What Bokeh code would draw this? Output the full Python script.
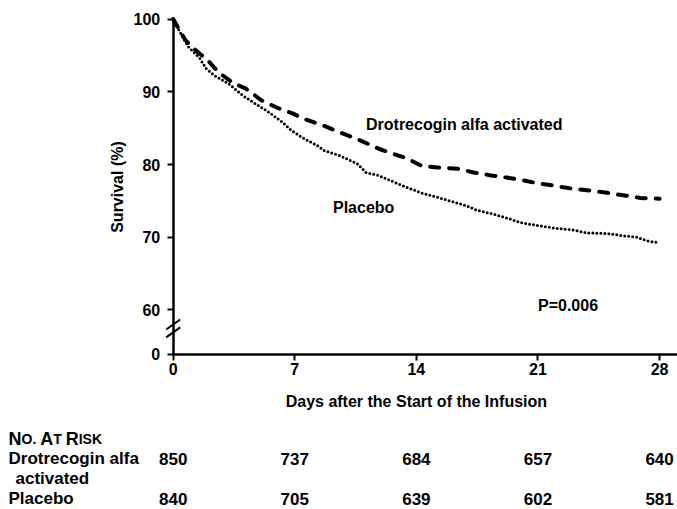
from bokeh.plotting import figure
from bokeh.models import Range1d, FixedTicker
from bokeh.core.properties import value
from bokeh.embed import file_html
from bokeh.resources import INLINE

# ---------------- data ----------------
days_drot = [0, 0.7, 1.3, 2.0, 2.6, 3.4, 4.2, 5.1, 6.0, 6.9, 7.5, 8.7, 9.6, 10.6, 11.8, 12.5,
             13.5, 14.3, 15.2, 16.4, 17.3, 18.3, 19.2, 20.2, 21.0, 21.9, 22.9, 24.0, 25.0,
             26.1, 26.9, 28.0]
surv_drot = [100, 97.1, 95.7, 94.3, 92.7, 91.3, 90.4, 88.8, 87.8, 87.0, 86.3, 85.3, 84.4, 83.5,
             82.2, 81.6, 80.8, 79.8, 79.6, 79.4, 78.9, 78.5, 78.2, 77.8, 77.4, 77.1, 76.7, 76.4,
             76.1, 75.7, 75.4, 75.3]

days_plac = [0, 0.25, 0.9, 1.5, 1.9, 2.4, 3.2, 4.0, 4.7, 5.5, 6.3, 6.8, 7.5, 8.3, 8.7, 9.6,
             10.6, 11.1, 11.8, 12.5, 13.5, 14.4, 15.2, 16.2, 16.9, 17.5, 18.4, 19.4, 20.0, 21.0,
             22.1, 23.0, 23.8, 25.0, 25.9, 26.7, 27.3, 28.0]
surv_plac = [100, 98.8, 96.1, 94.7, 93.2, 92.2, 91.1, 89.5, 88.4, 87.2, 85.8, 84.7, 83.6, 82.6,
             81.9, 81.2, 80.1, 78.9, 78.5, 77.8, 76.8, 76.0, 75.5, 74.8, 74.3, 73.7, 73.2, 72.5,
             72.0, 71.6, 71.2, 71.0, 70.6, 70.5, 70.2, 70.0, 69.5, 69.2]

x_ticks = [0, 7, 14, 21, 28]
y_ticks = [60, 70, 80, 90, 100]
risk_days = [0, 7, 14, 21, 28]
risk_drot = [850, 737, 684, 657, 640]
risk_plac = [840, 705, 639, 602, 581]

# ---------------- layout constants ----------------
FONT = "Liberation Sans"
W, H = 677, 509
X0_PX = 172.7            # canvas x of day 0
PX_PER_DAY = 17.37
Y100_PX = 18.6           # canvas y of 100 %
PX_PER_PCT = 7.27
Y_ZERO = 53.87           # display position of "0" below the axis break

X_START = -X0_PX / PX_PER_DAY
X_END = (W - X0_PX) / PX_PER_DAY
Y_END = 100 + Y100_PX / PX_PER_PCT
Y_START = 100 - (H - Y100_PX) / PX_PER_PCT

p = figure(width=W, height=H, x_range=Range1d(X_START, X_END), y_range=Range1d(Y_START, Y_END),
           output_backend="svg", toolbar_location=None, min_border=0)
p.outline_line_color = None
p.grid.visible = False
# a pixel-based range (from the top) for the table below the chart
p.extra_y_ranges = {"tab": Range1d(H, 0)}

p.line(days_drot, surv_drot, line_color="black", line_width=4, line_dash="9 10", line_cap="round")
p.line(days_plac, surv_plac, line_color="black", line_width=3, line_dash="0 4", line_cap="round")

for ax in (p.xaxis[0], p.yaxis[0]):
    ax.axis_line_width = 2.5
    ax.axis_line_color = "black"
    ax.major_tick_line_width = 2
    ax.major_tick_out = 6
    ax.major_tick_in = 0
    ax.minor_tick_line_color = None
    ax.major_label_text_font = FONT
    ax.major_label_text_font_style = "bold"
    ax.major_label_text_font_size = "16px"
    ax.major_label_text_color = "black"
    ax.axis_label_text_font = FONT
    ax.axis_label_text_font_style = "bold"
    ax.axis_label_text_font_size = "16px"
    ax.axis_label_text_color = "black"

p.xaxis.fixed_location = Y_ZERO
p.xaxis.bounds = (0, X_END)
p.xaxis.ticker = FixedTicker(ticks=x_ticks)
p.xaxis.major_label_standoff = 3

p.yaxis.fixed_location = 0
p.yaxis.bounds = (Y_ZERO, 100)
p.yaxis.ticker = FixedTicker(ticks=[Y_ZERO] + y_ticks)
p.yaxis.major_label_overrides = {Y_ZERO: "0"}
p.yaxis.axis_label = "Survival (%)"
p.yaxis.major_label_standoff = 7
p.yaxis.axis_label_standoff = 5

# axis break marks "//"
dx, dy = 7 / PX_PER_DAY, 5 / PX_PER_PCT
brk = [58.0, 56.9]
p.segment(x0=[-dx] * 2, y0=[b - dy for b in brk], x1=[dx] * 2, y1=[b + dy for b in brk],
          line_color="black", line_width=2)

txt_style = dict(text_font=value(FONT), text_font_style="bold", text_font_size="16px",
                 text_baseline="middle", text_color="black")
p.text(x=[11.1, 9.2, 21.0], y=[85.5, 74.1, 60.6],
       text=["Drotrecogin alfa activated", "Placebo", "P=0.006"], text_align="left", **txt_style)

# x-axis title, centred under the 14-day tick
p.text(x=[14], y=[401], text=["Days after the Start of the Infusion"], text_align="center",
       y_range_name="tab", **txt_style)

# ---------------- number-at-risk table ----------------
ROW0, ROW1, ROW1B, ROW2 = 438, 458, 478, 498
tab_style = dict(text_font=value(FONT), text_font_style="bold", text_font_size="17px",
                 text_baseline="middle", text_color="black", y_range_name="tab")

p.text(x=risk_days, y=[ROW1] * len(risk_days), text=[str(v) for v in risk_drot],
       text_align="center", **tab_style)
p.text(x=risk_days, y=[ROW2] * len(risk_days), text=[str(v) for v in risk_plac],
       text_align="center", **tab_style)

def px(xpix):
    return (xpix - X0_PX) / PX_PER_DAY

p.text(x=[px(8), px(15), px(8)], y=[ROW1, ROW1B, ROW2],
       text=["Drotrecogin alfa", "activated", "Placebo"], text_align="left", **tab_style)

# small-caps header "No. At Risk"
header_parts = [("N", 8, 18), ("O.", 21.0, 14), ("A", 39.7, 18), ("T", 52.7, 14),
                ("R", 65.2, 18), ("ISK", 78.2, 14)]
for s, xp, fs in header_parts:
    p.text(x=[px(xp)], y=[ROW0], text=[s], text_align="left", text_baseline="alphabetic",
           text_font=value(FONT), text_font_style="bold", text_font_size=f"{fs}px",
           text_color="black", y_range_name="tab")

open("out.html", "w").write(file_html(p, INLINE))
